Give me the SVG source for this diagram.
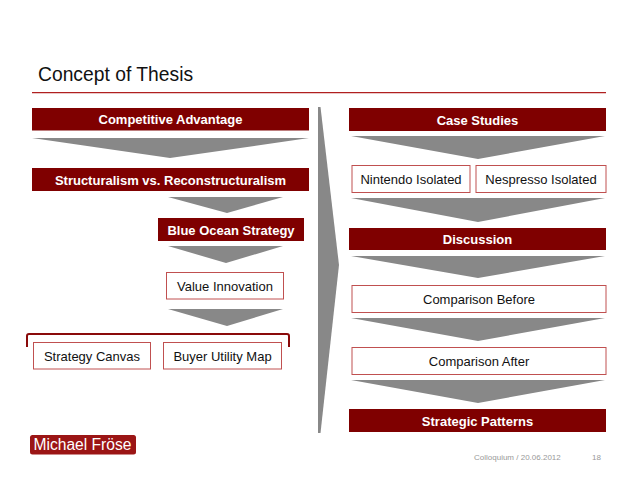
<svg xmlns="http://www.w3.org/2000/svg" width="638" height="478" viewBox="0 0 638 478">
<style>
.dark{fill:#7f0000}
.wbox{fill:#ffffff;stroke:#c05050;stroke-width:1}
.bt{font-family:"Liberation Sans",Arial,sans-serif;font-size:13px;font-weight:bold;fill:#ffffff;text-anchor:middle}
.rt{font-family:"Liberation Sans",Arial,sans-serif;font-size:13px;fill:#111111;text-anchor:middle}
.chev{fill:#888888}
</style>
<rect width="638" height="478" fill="#ffffff"/>
<text x="38" y="81" font-family="Liberation Sans,Arial,sans-serif" font-size="19.3" fill="#111111">Concept of Thesis</text>
<line x1="32" y1="92.7" x2="606" y2="92.7" stroke="#b02020" stroke-width="1.2"/>

<g id="connectors">
<polygon class="chev" points="318,107 320.5,107 339,265 320.5,433 318,433"/>
<polygon class="chev" points="32,138 309,138 170,158"/>
<polygon class="chev" points="168,197 283,197 227,213"/>
<polygon class="chev" points="168,246 283,246 226,263"/>
<polygon class="chev" points="168,309 283,309 227,326"/>
<polygon class="chev" points="351,136 605,136 478,159"/>
<polygon class="chev" points="351,198 605,198 478,222"/>
<polygon class="chev" points="351,256 605,256 478,278"/>
<polygon class="chev" points="351,318 605,318 478,341"/>
<polygon class="chev" points="351,380 605,380 478,403"/>
<path d="M27,347 V336 Q27,334 29,334 H287 Q289,334 289,336 V347" fill="none" stroke="#8a0a0a" stroke-width="2"/>
</g>

<g id="competitive-advantage"><rect class="dark" x="32" y="108" width="277" height="22.5"/><text class="bt" x="170.5" y="124">Competitive Advantage</text></g>
<g id="structuralism"><rect class="dark" x="32" y="168" width="277" height="23"/><text class="bt" x="170.5" y="185">Structuralism vs. Reconstructuralism</text></g>
<g id="blue-ocean"><rect class="dark" x="158" y="218" width="146" height="23"/><text class="bt" x="231" y="235">Blue Ocean Strategy</text></g>
<g id="value-innovation"><rect class="wbox" x="166.5" y="272.5" width="117" height="26.5"/><text class="rt" x="225" y="291">Value Innovation</text></g>
<g id="strategy-canvas"><rect class="wbox" x="33.5" y="342.5" width="117" height="26.5"/><text class="rt" x="92" y="361">Strategy Canvas</text></g>
<g id="buyer-utility-map"><rect class="wbox" x="163.5" y="342.5" width="118" height="26.5"/><text class="rt" x="222.5" y="361">Buyer Utility Map</text></g>

<g id="case-studies"><rect class="dark" x="349" y="108" width="257" height="23"/><text class="bt" x="477.5" y="125">Case Studies</text></g>
<g id="nintendo"><rect class="wbox" x="352" y="165.5" width="118" height="27"/><text class="rt" x="411" y="184">Nintendo Isolated</text></g>
<g id="nespresso"><rect class="wbox" x="476" y="165.5" width="130" height="27"/><text class="rt" x="541" y="184">Nespresso Isolated</text></g>
<g id="discussion"><rect class="dark" x="349" y="228" width="257" height="22"/><text class="bt" x="477.5" y="244">Discussion</text></g>
<g id="comparison-before"><rect class="wbox" x="352" y="285.5" width="254" height="27"/><text class="rt" x="479" y="304">Comparison Before</text></g>
<g id="comparison-after"><rect class="wbox" x="352" y="347.5" width="254" height="27"/><text class="rt" x="479" y="366">Comparison After</text></g>
<g id="strategic-patterns"><rect class="dark" x="349" y="409" width="257" height="23"/><text class="bt" x="477.5" y="426">Strategic Patterns</text></g>

<g id="author"><rect x="30" y="435" width="106" height="19.5" rx="2.5" fill="#9b1515"/><text x="33.5" y="450" font-family="Liberation Sans,Arial,sans-serif" font-size="15.6" fill="#ffffff">Michael Fröse</text></g>
<text x="474" y="459.5" font-family="Liberation Sans,Arial,sans-serif" font-size="8" fill="#999999">Colloquium / 20.06.2012</text>
<text x="592" y="459.5" font-family="Liberation Sans,Arial,sans-serif" font-size="8" fill="#999999">18</text>
</svg>
